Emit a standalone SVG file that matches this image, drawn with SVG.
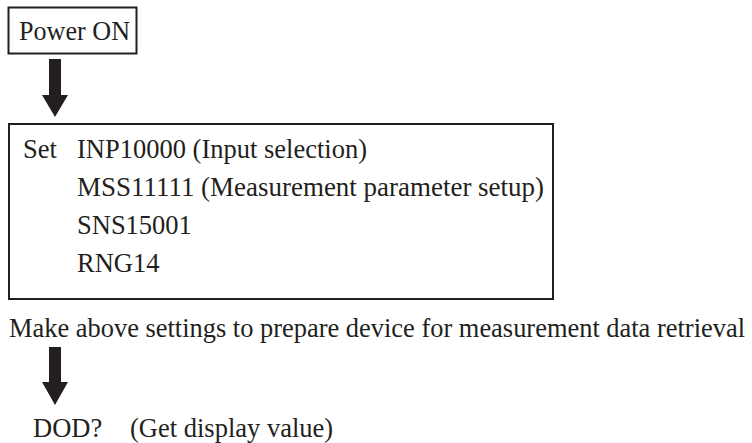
<svg xmlns="http://www.w3.org/2000/svg" width="752" height="443" viewBox="0 0 752 443">
<style>
.t{font-family:'Liberation Serif','DejaVu Serif',serif;font-size:26.5px;fill:#231f20}
.box{fill:#fff;stroke:#231f20;stroke-width:2}
.arrow{fill:#231f20}
</style>
<rect width="752" height="443" fill="#fff"/>
<g id="power">
<rect class="box" x="8.5" y="7.5" width="128" height="46"/>
<text class="t" font-family="Liberation Serif, serif" x="19" y="40" textLength="111" lengthAdjust="spacingAndGlyphs">Power ON</text>
</g>
<g id="settings">
<rect class="box" x="9" y="124" width="544" height="175"/>
<text class="t" font-family="Liberation Serif, serif" x="23" y="158">Set</text>
<text class="t" font-family="Liberation Serif, serif" x="77" y="158">INP10000 (Input selection)</text>
<text class="t" font-family="Liberation Serif, serif" x="77" y="196" textLength="467" lengthAdjust="spacingAndGlyphs">MSS11111 (Measurement parameter setup)</text>
<text class="t" font-family="Liberation Serif, serif" x="77" y="234">SNS15001</text>
<text class="t" font-family="Liberation Serif, serif" x="77" y="272">RNG14</text>
</g>
<g id="note">
<text class="t" font-family="Liberation Serif, serif" x="9" y="337" textLength="736" lengthAdjust="spacingAndGlyphs">Make above settings to prepare device for measurement data retrieval</text>
</g>
<g id="dod">
<text class="t" font-family="Liberation Serif, serif" x="33" y="437">DOD?</text>
<text class="t" font-family="Liberation Serif, serif" x="130" y="437">(Get display value)</text>
</g>
<g id="connectors">
<polygon class="arrow" points="49,59 61,59 61,95 68,95 55,117 42,95 49,95"/>
<polygon class="arrow" points="49,347 61,347 61,382 68,382 55,405 42,382 49,382"/>
</g>
</svg>
